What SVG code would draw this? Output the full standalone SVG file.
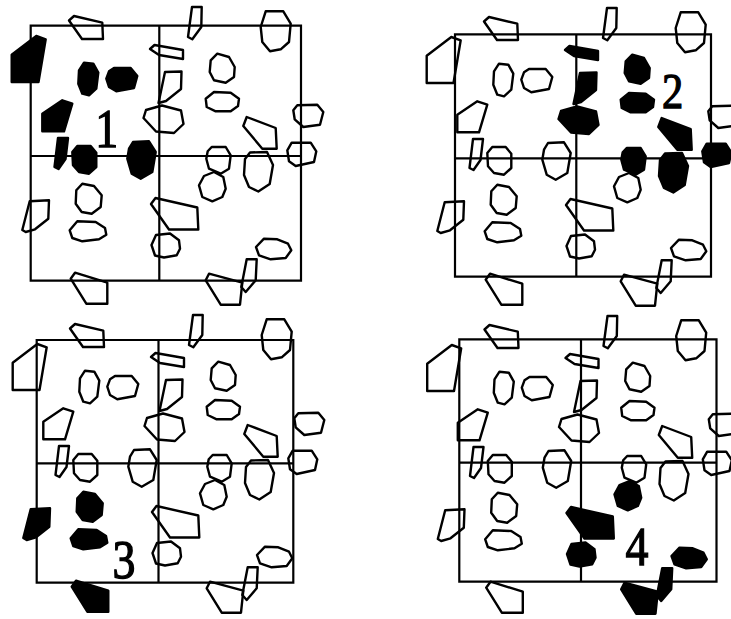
<svg xmlns="http://www.w3.org/2000/svg" xmlns:xlink="http://www.w3.org/1999/xlink" width="731" height="619" viewBox="0 0 731 619">
<style>
.o{fill:none;stroke:#000;stroke-width:2.4;stroke-linejoin:round}
.f{fill:#000;stroke:#000;stroke-width:2.4;stroke-linejoin:round}
.g{fill:none;stroke:#000;stroke-width:2.2}
.lbl{font-family:"Liberation Serif","Times New Roman",serif;font-size:54px;fill:#000;stroke:#000;stroke-width:1.3;text-anchor:middle}
</style>
<defs>
<polygon id="A" points="70,328.5 75,324 103.3,330.7 104,347 83,347"/>
<polygon id="B" points="12.7,362.7 37.3,344 46.7,347.3 39.5,390 12.7,390"/>
<polygon id="C" points="85,370.7 94.3,371.7 99.3,380.7 97.3,396.7 90,403.3 83.3,401.7 79.3,391.7 80,378.3"/>
<polygon id="D" points="115,376 131.7,376 138.3,384 135,396 117.3,399.3 110,395 107.3,386.7 110,379.3"/>
<polygon id="E" points="43.3,421.7 63.3,408.3 73.3,411.7 65,439.3 43.3,439.3"/>
<polygon id="F" points="59,446 69,446 66.5,467 59.5,477 55.5,475"/>
<polygon id="G" points="78.3,454 91.7,454 97.3,460.7 97.3,475 90,481.7 80,480 74,473.3 73.3,460"/>
<polygon id="H" points="134,450 150,449.3 156.7,460 153.3,480 141.7,486.7 132.7,481.7 128.3,466.7 130,456.7"/>
<polygon id="I" points="151,357 155.5,353 184,358 184,367 160,363"/>
<polygon id="J" points="166,380 182.5,379.5 182,397 167,409 159.5,411"/>
<polygon id="K" points="147,418 163,413.5 182,418.5 184.5,432 175,441 157,439.5 144.5,426"/>
<polygon id="L" points="193,315 202.7,315 202.3,335 193.3,347.3 189,345"/>
<polygon id="M" points="266.7,319.3 284.3,319.3 291.7,331.7 290,350 281.7,357.3 271,359.3 263.3,350 261.7,335"/>
<polygon id="N" points="218.3,361.7 230,365 235.7,375 235,385 226.7,390.7 215,388.3 210.7,380 211.7,368.3"/>
<polygon id="O" points="215,400 231.7,400.7 240,406.7 239,414 231.7,419.3 216.7,419.3 207.7,415 206.7,406.7"/>
<polygon id="P" points="247.7,425 276.7,436 277.7,456.7 263.3,456.7 244.3,434"/>
<polygon id="Q" points="298.3,413.3 318.3,412.7 324.3,420 321,432.7 304.3,435 295.7,427.3 294.3,418.3"/>
<polygon id="R" points="292.7,450.7 311.7,450.7 317.3,459.3 315,470 296.7,474 290,469.3 288.3,458.3"/>
<polygon id="S" points="212.7,455 226.7,455 231.7,463.3 230,476.7 221.7,481.7 210,476.7 207.3,466.7 208.7,459.3"/>
<polygon id="T" points="205,484 215,480 224.3,485 226.7,496.7 223.3,505 213.3,509.3 203.3,505 200,493.3"/>
<polygon id="U" points="251,460.5 268,460 274,473 270.7,492 259.3,499.5 250,495 245,483 246,467"/>
<polygon id="V" points="156.5,506 198.3,515.5 199.3,537.5 170,537.5 152,512"/>
<polygon id="W" points="157,543 171,541.5 180,548.3 181,556.7 177.7,563.3 165,565.5 156,563.5 152.5,553"/>
<polygon id="X" points="265,546.7 278.3,547.3 289,551.7 292.3,558.3 286.7,566 271.7,567.3 260,563.3 257,555"/>
<polygon id="Y" points="247.7,567.3 257.7,567.3 256.7,588.3 246.7,600 242.3,595"/>
<polygon id="Z" points="206.7,588.3 210,581.7 243.3,590.7 241,612.7 221.7,612.7"/>
<polygon id="AA" points="71.7,586.7 76,580.7 108.3,590.7 108.3,611.7 87.3,611.7"/>
<polygon id="AB" points="30.7,509.3 50,508.3 49.3,526.7 36,537.3 26.7,540 23.3,538"/>
<polygon id="AC" points="83.3,491.7 95,494 102.7,503.3 101.7,515 92.7,521.7 82.7,520 76.7,511.7 77.3,498.3"/>
<polygon id="AD" points="78.3,529.3 96.7,530 106,536 107.3,542.7 100,547.3 83.3,549.3 73.3,546 70.7,538.3"/>
</defs>

<g id="panel1">
<path class="g" d="M30.7,25.7H301V280.7H30.7Z M159.3,25.7V280.7 M30.7,156H301"/>
<g transform="translate(-1,-308)">
<use href="#A" class="o"/><use href="#B" class="f"/><use href="#C" class="f"/><use href="#D" class="f"/>
<use href="#E" class="f"/><use href="#F" class="f"/><use href="#G" class="f"/><use href="#H" class="f"/>
<use href="#I" class="o"/><use href="#J" class="o"/><use href="#K" class="o"/><use href="#L" class="o"/>
<use href="#M" class="o"/><use href="#N" class="o"/><use href="#O" class="o"/><use href="#P" class="o"/>
<use href="#Q" class="o"/><use href="#R" class="o"/><use href="#S" class="o"/><use href="#T" class="o"/>
<use href="#U" class="o"/><use href="#V" class="o"/><use href="#W" class="o"/><use href="#X" class="o"/>
<use href="#Y" class="o"/><use href="#Z" class="o"/><use href="#AA" class="o"/><use href="#AB" class="o"/>
<use href="#AC" class="o"/><use href="#AD" class="o"/>
</g>
<text class="lbl" transform="translate(106.7,146.7) scale(0.85,1)">1</text>
</g>

<g id="panel2">
<path class="g" d="M455,34.3H711V276.7H455Z M576.3,34.3V276.7 M455,158.3H711"/>
<g transform="translate(414,-307)">
<use href="#A" class="o"/><use href="#B" class="o"/><use href="#C" class="o"/><use href="#D" class="o"/>
<use href="#E" class="o"/><use href="#F" class="o"/><use href="#G" class="o"/><use href="#H" class="o"/>
<use href="#I" class="f"/><use href="#J" class="f"/><use href="#K" class="f"/><use href="#L" class="o"/>
<use href="#M" class="o"/><use href="#N" class="f"/><use href="#O" class="f"/><use href="#P" class="f"/>
<use href="#Q" class="o"/><use href="#R" class="f"/><use href="#S" class="f"/><use href="#T" class="o"/>
<use href="#U" class="f"/><use href="#V" class="o"/><use href="#W" class="o"/><use href="#X" class="o"/>
<use href="#Y" class="o"/><use href="#Z" class="o"/><use href="#AA" class="o"/><use href="#AB" class="o"/>
<use href="#AC" class="o"/><use href="#AD" class="o"/>
</g>
<text class="lbl" transform="translate(672.5,108.3) scale(0.85,1)" style="font-size:50px">2</text>
</g>

<g id="panel3">
<path class="g" d="M36.7,340H293.3V582.7H36.7Z M158.5,340V582.7 M36.7,463.3H293.3"/>
<g>
<use href="#A" class="o"/><use href="#B" class="o"/><use href="#C" class="o"/><use href="#D" class="o"/>
<use href="#E" class="o"/><use href="#F" class="o"/><use href="#G" class="o"/><use href="#H" class="o"/>
<use href="#I" class="o"/><use href="#J" class="o"/><use href="#K" class="o"/><use href="#L" class="o"/>
<use href="#M" class="o"/><use href="#N" class="o"/><use href="#O" class="o"/><use href="#P" class="o"/>
<use href="#Q" class="o"/><use href="#R" class="o"/><use href="#S" class="o"/><use href="#T" class="o"/>
<use href="#U" class="o"/><use href="#V" class="o"/><use href="#W" class="o"/><use href="#X" class="o"/>
<use href="#Y" class="o"/><use href="#Z" class="o"/><use href="#AA" class="f"/><use href="#AB" class="f"/>
<use href="#AC" class="f"/><use href="#AD" class="f"/>
</g>
<text class="lbl" transform="translate(124,578.3) scale(0.85,1)">3</text>
</g>

<g id="panel4">
<path class="g" d="M459.3,339.3H716.5V581.7H459.3Z M581,339.3V581.7 M459.3,462.7H716.5"/>
<g transform="translate(414.5,1)">
<use href="#A" class="o"/><use href="#B" class="o"/><use href="#C" class="o"/><use href="#D" class="o"/>
<use href="#E" class="o"/><use href="#F" class="o"/><use href="#G" class="o"/><use href="#H" class="o"/>
<use href="#I" class="o"/><use href="#J" class="o"/><use href="#K" class="o"/><use href="#L" class="o"/>
<use href="#M" class="o"/><use href="#N" class="o"/><use href="#O" class="o"/><use href="#P" class="o"/>
<use href="#Q" class="o"/><use href="#R" class="o"/><use href="#S" class="o"/><use href="#T" class="f"/>
<use href="#U" class="o"/><use href="#V" class="f"/><use href="#W" class="f"/><use href="#X" class="f"/>
<use href="#Y" class="f"/><use href="#Z" class="f"/><use href="#AA" class="o"/><use href="#AB" class="o"/>
<use href="#AC" class="o"/><use href="#AD" class="o"/>
</g>
<text class="lbl" transform="translate(637,565) scale(0.85,1)">4</text>
</g>
</svg>
